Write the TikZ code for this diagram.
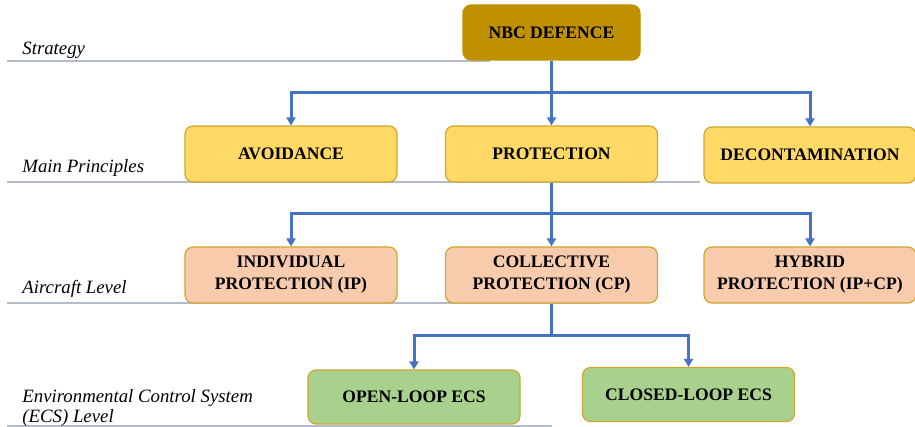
\documentclass[tikz,border=0pt]{standalone}
\usepackage{fontspec}
\setmainfont{Liberation Serif}
\usetikzlibrary{arrows.meta}
\definecolor{linkblue}{HTML}{4472C4}
\definecolor{gold}{HTML}{BF9000}
\definecolor{goldline}{HTML}{D0A62E}
\definecolor{yellowfill}{HTML}{FFD966}
\definecolor{peachfill}{HTML}{F8CBAD}
\definecolor{greenfill}{HTML}{A9D18E}
\definecolor{rulegray}{HTML}{B4BBCB}

\begin{document}
\begin{tikzpicture}
				[x=0.5pt, y=-0.5pt,
				box/.style = {draw=goldline, line width=0.6pt, rounded corners=4pt,
				align=center, inner sep=2pt,
				font=\fontsize{8.8}{11}\selectfont\bfseries},
				top/.style = {box, fill=gold, draw=gold, minimum width=88.5pt, minimum height=27.5pt},
				principle/.style = {box, fill=yellowfill, minimum width=106pt, minimum height=28pt},
				aircraft/.style = {box, fill=peachfill, minimum width=106pt, minimum height=28pt},
				ecs/.style = {box, fill=greenfill, minimum width=106pt, minimum height=27pt},
				level/.style = {inner sep=0pt, align=left,
				font=\fontsize{9.4}{10}\selectfont\itshape},
				rule/.style = {draw=rulegray, line width=0.7pt},
				link/.style = {draw=linkblue, line width=1.5pt,
				-{Triangle[length=4pt, width=4.5pt]}}]
				\useasboundingbox (0,0) rectangle (915,427);
				% level rules behind the boxes
				\draw[rule] (7,61) -- (490,61);
				\draw[rule] (7,182) -- (700,182);
				\draw[rule] (7,303) -- (600,303);
				\draw[rule] (7,426) -- (552,426);
				% level names
				\node[level, anchor=base west] (lstrategy) at (22,55) {Strategy};
				\node[level, anchor=base west] (lprinciples) at (22,173) {Main Principles};
				\node[level, anchor=base west] (laircraft) at (22,293) {Aircraft Level};
				\node[level, anchor=north west] (lecs) at (22,389) {Environmental Control System\\(ECS) Level};
				% boxes
				\node[top] (nbc) at (551.5,32.5) {NBC DEFENCE};
				\node[principle] (avoid) at (291,154) {AVOIDANCE};
				\node[principle] (protect) at (551.5,154) {PROTECTION};
				\node[principle] (decon) at (810,155) {DECONTAMINATION};
				\node[aircraft] (ip) at (291,275) {INDIVIDUAL\\PROTECTION (IP)};
				\node[aircraft] (cp) at (551.5,275) {COLLECTIVE\\PROTECTION (CP)};
				\node[aircraft] (hybrid) at (810,275) {HYBRID\\PROTECTION (IP+CP)};
				\node[ecs] (open) at (414,397) {OPEN-LOOP ECS};
				\node[ecs] (closed) at (688.5,394.5) {CLOSED-LOOP ECS};
				% branch heights
				\coordinate (j1) at (0,93);
				\coordinate (j2) at (0,214);
				\coordinate (j3) at (0,335);
				\draw[link] (nbc.south) -- (nbc.south |- j1) -| (avoid.north);
				\draw[link] (nbc.south) -- (protect.north);
				\draw[link] (nbc.south) -- (nbc.south |- j1) -| (decon.north);
				\draw[link] (protect.south) -- (protect.south |- j2) -| (ip.north);
				\draw[link] (protect.south) -- (cp.north);
				\draw[link] (protect.south) -- (protect.south |- j2) -| (hybrid.north);
				\draw[link] (cp.south) -- (cp.south |- j3) -| (open.north);
				\draw[link] (cp.south) -- (cp.south |- j3) -| (closed.north);
			\end{tikzpicture}
\end{document}
